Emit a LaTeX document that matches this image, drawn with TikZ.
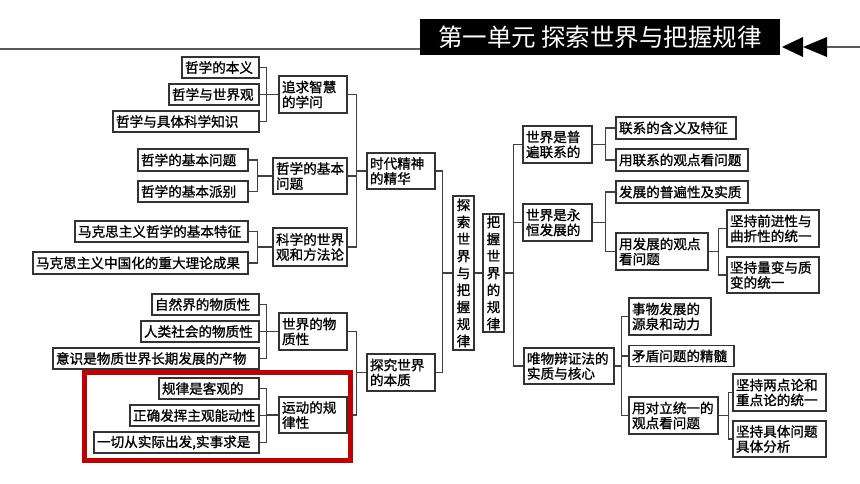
\documentclass[tikz,border=0pt]{standalone}
\usepackage{fontspec}
\newfontfamily\cjk{Noto Sans CJK SC}
\newfontfamily\cjkbox[FakeBold=1.2]{Noto Sans CJK SC}
\definecolor{markred}{RGB}{192,0,0}
\tikzset{
  box/.style={draw=black!80, line width=1.5pt, fill=white, inner xsep=3pt, inner ysep=0pt, align=left, font=\cjkbox\fontsize{13.6}{15}\selectfont},
  vbox/.style={draw=black!80, line width=1.5pt, fill=white, inner sep=0pt, minimum width=21pt, align=center, font=\cjkbox\fontsize{13.6}{17}\selectfont},
  link/.style={draw=black!75, line width=1.2pt},
}
\begin{document}
\begin{tikzpicture}[x=1pt,y=-1pt]
      \useasboundingbox (0,0) rectangle (860,484);
      % title bar
      \node[fill=black, text=white, minimum width=360pt, minimum height=36pt, inner sep=0pt, font=\cjk\fontsize{24.5}{26}\selectfont] (title) at (600,37) {第一单元 探索世界与把握规律};
      \draw[gray!70!black, line width=1.3pt] (0,49) -- (title.west |- 0,49);
      \coordinate (tip) at (782,47);
      \fill (tip) -- ++(21,-10) -- ++(0,20) -- cycle;
      \fill (tip) ++(21,0) -- ++(24,-10) -- ++(0,20) -- cycle;
      \draw[gray!70!black, line width=1.3pt] (827,47) -- (860,47);
      % left part
      \node[box, text width=71pt, minimum height=21pt] (benyi) at (220.5,67.5) {哲学的本义};
      \node[box, text width=84pt, minimum height=21pt] (shijieguan) at (214,94.5) {哲学与世界观};
      \node[box, text width=140pt, minimum height=21pt] (juti) at (186,121.5) {哲学与具体科学知识};
      \node[box, text width=62pt, minimum height=37pt] (zhihui) at (313,94.5) {追求智慧\\的学问};
      \node[box, text width=104pt, minimum height=22pt] (wenti) at (193,160) {哲学的基本问题};
      \node[box, text width=104pt, minimum height=21pt] (paibie) at (193,191.5) {哲学的基本派别};
      \node[box, text width=68pt, minimum height=36pt] (jiben) at (310,176) {哲学的基本\\问题};
      \node[box, text width=167pt, minimum height=21pt] (tezheng) at (161.5,231.5) {马克思主义哲学的基本特征};
      \node[box, text width=209pt, minimum height=22pt] (chengguo) at (140.5,263) {马克思主义中国化的重大理论成果};
      \node[box, text width=68pt, minimum height=38pt] (kexue) at (310,247) {科学的世界\\观和方法论};
      \node[box, text width=62pt, minimum height=36pt] (shidai) at (401,171) {时代精神\\的精华};
      \node[box, text width=101pt, minimum height=21pt] (ziran) at (205.5,304.5) {自然界的物质性};
      \node[box, text width=112pt, minimum height=21pt] (renlei) at (200,331.5) {人类社会的物质性};
      \node[box, text width=200pt, minimum height=21pt] (yishi) at (156,358.5) {意识是物质世界长期发展的产物};
      \node[box, text width=62pt, minimum height=37pt] (wuzhi) at (313,331.5) {世界的物\\质性};
      \node[box, text width=94pt, minimum height=21pt] (keguan) at (209,388.5) {规律是客观的};
      \node[box, text width=123pt, minimum height=21pt] (zhengque) at (194.5,415.5) {正确发挥主观能动性};
      \node[box, text width=159pt, minimum height=21pt] (yiqie) at (176.5,442.5) {一切从实际出发,实事求是};
      \node[box, text width=62pt, minimum height=36pt] (yundong) at (313,415) {运动的规\\律性};
      \node[box, text width=62pt, minimum height=37pt] (tanjiu) at (401,372.5) {探究世界\\的本质};
      % middle
      \node[vbox, minimum height=154pt] (tansuo) at (463.5,273) {探\\索\\世\\界\\与\\把\\握\\规\\律};
      \node[vbox, minimum height=118pt] (bawo) at (493.5,273) {把\\握\\世\\界\\的\\规\\律};
      % right part
      \node[box, text width=63pt, minimum height=37pt] (pubian) at (557.5,144.5) {世界是普\\遍联系的};
      \node[box, text width=114pt, minimum height=22pt] (hanyi) at (676,128) {联系的含义及特征};
      \node[box, text width=126pt, minimum height=22pt] (yonglianxi) at (682,160) {用联系的观点看问题};
      \node[box, text width=63pt, minimum height=37pt] (yongheng) at (557.5,222.5) {世界是永\\恒发展的};
      \node[box, text width=126pt, minimum height=22pt] (shizhi) at (682,192) {发展的普遍性及实质};
      \node[box, text width=86pt, minimum height=37pt] (yongfazhan) at (662,251.5) {用发展的观点\\看问题};
      \node[box, text width=86pt, minimum height=37pt] (qianjin) at (773,228.5) {坚持前进性与\\曲折性的统一};
      \node[box, text width=86pt, minimum height=36pt] (liangbian) at (773,275) {坚持量变与质\\变的统一};
      \node[box, text width=84pt, minimum height=36pt] (weiwu) at (569,366) {唯物辩证法的\\实质与核心};
      \node[box, text width=76pt, minimum height=37pt] (shiwu) at (670,316.5) {事物发展的\\源泉和动力};
      \node[box, text width=99pt, minimum height=21pt] (maodun) at (681.5,356) {矛盾问题的精髓};
      \node[box, text width=83pt, minimum height=37pt] (duili) at (673.5,415.5) {用对立统一的\\观点看问题};
      \node[box, text width=87pt, minimum height=37pt] (liangdian) at (779.5,392.5) {坚持两点论和\\重点论的统一};
      \node[box, text width=87pt, minimum height=36pt] (juti2) at (779.5,439) {坚持具体问题\\具体分析};
      % connectors, left side
      \foreach \c in {benyi,shijieguan,juti} \draw[link] (zhihui.west) -- ++(-12,0) |- (\c.east);
      \foreach \c in {wenti,paibie} \draw[link] (jiben.west) -- ++(-15,0) |- (\c.east);
      \foreach \c in {tezheng,chengguo} \draw[link] (kexue.west) -- ++(-15,0) |- (\c.east);
      \foreach \c in {zhihui,jiben,kexue} \draw[link] (shidai.west) -- ++(-10,0) |- (\c.east);
      \foreach \c in {ziran,renlei,yishi} \draw[link] (wuzhi.west) -- ++(-12,0) |- (\c.east);
      \foreach \c in {keguan,zhengque,yiqie} \draw[link] (yundong.west) -- ++(-12,0) |- (\c.east);
      \foreach \c in {wuzhi,yundong} \draw[link] (tanjiu.west) -- ++(-10,0) |- (\c.east);
      \foreach \c in {shidai,tanjiu} \draw[link] (tansuo.west) -- ++(-10,0) |- (\c.east);
      % connectors, right side
      \draw[link] (tansuo.east) -- (bawo.west);
      \foreach \c in {pubian,yongheng,weiwu} \draw[link] (bawo.east) -- ++(9,0) |- (\c.west);
      \foreach \c in {hanyi,yonglianxi} \draw[link] (pubian.east) -- ++(13,0) |- (\c.west);
      \foreach \c in {shizhi,yongfazhan} \draw[link] (yongheng.east) -- ++(13,0) |- (\c.west);
      \foreach \c in {qianjin,liangbian} \draw[link] (yongfazhan.east) -- ++(10,0) |- (\c.west);
      \foreach \c in {shiwu,maodun,duili} \draw[link] (weiwu.east) -- ++(7,0) |- (\c.west);
      \foreach \c in {liangdian,juti2} \draw[link] (duili.east) -- ++(10,0) |- (\c.west);
      % red frame
      \draw[markred, line width=5pt] (84.5,372.5) rectangle (350.5,460.5);
\end{tikzpicture}
\end{document}
